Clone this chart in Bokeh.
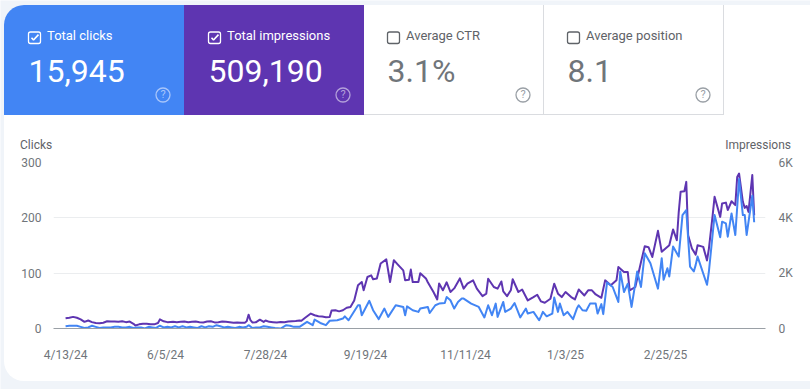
from bokeh.plotting import figure
from bokeh.models import LinearAxis, Range1d, FixedTicker, Column
from bokeh.core.properties import value
from bokeh.embed import file_html
from bokeh.resources import INLINE

tick_days = [0, 53, 106, 159, 212, 265, 318]
tick_labels = ["4/13/24", "6/5/24", "7/28/24", "9/19/24", "11/11/24", "1/3/25", "2/25/25"]

impr_days = [0,2,4,6,8,10,12,14,16,18,20,22,24,26,28,30,32,34,36,37,39,41,43,45,47,49,50,52,54,57,59,61,63,65,67,69,71,73,75,77,79,81,83,85,87,89,91,93,95,96,97,98,99,101,103,105,106,108,110,112,114,116,118,120,122,124,125,127,130,132,134,136,138,140,141,143,145,147,149,151,153,155,157,158,160,162,163,165,167,170,172,174,176,179,180,182,183,184,187,188,191,192,195,197,198,200,202,204,206,209,211,213,216,218,221,223,224,227,229,231,232,234,236,237,240,242,245,248,250,252,254,257,259,261,263,265,268,270,272,275,277,279,281,284,286,289,292,293,296,298,299,302,305,307,309,311,314,316,320,322,324,325,326,328,329,330,332,334,335,338,340,341,343,344,347,348,350,351,353,355,356,357,359,360,361,362,364,365]
impressions = [370,390,420,390,330,240,290,230,200,190,210,260,250,250,240,260,230,250,170,110,150,170,170,150,150,200,330,260,230,240,230,240,250,230,240,250,230,220,250,260,220,230,250,240,230,210,220,210,210,260,500,300,220,230,320,240,290,240,230,220,235,230,250,260,270,290,280,390,540,480,440,430,410,420,650,660,620,660,750,780,1010,1560,1680,1380,1860,1920,1780,1810,2350,2500,1680,2470,2320,2100,1740,1760,2130,1680,1680,2000,1810,1670,1320,1050,1630,1380,1670,1320,1450,1810,1440,1620,1740,1440,1170,1260,1800,1500,1440,1700,1340,1170,1380,1780,1320,1410,1015,1135,1220,980,930,1075,1620,1260,1135,1320,1135,1050,1410,1195,1380,1380,1230,1110,1740,1560,1740,2220,2040,2040,1380,1500,2400,2970,2940,2585,3530,2770,3010,3580,3190,4200,4940,4960,5300,3370,2890,2670,3010,2950,2460,2890,4095,4760,4035,4520,4550,4280,4600,4460,5480,5600,4580,4360,4430,4215,5545,4095]

click_days = [0,2,4,6,8,10,12,14,16,18,20,22,24,26,28,30,32,34,36,38,40,42,44,46,48,50,52,54,56,58,60,62,64,66,68,70,72,74,76,78,80,82,84,86,88,90,92,94,96,97,99,101,103,105,107,109,111,114,117,119,121,124,128,131,132,135,138,140,144,147,148,150,155,156,157,161,163,166,169,171,175,179,180,181,184,187,188,192,193,196,198,201,202,204,206,208,210,211,215,219,222,224,226,228,229,232,233,236,238,241,244,245,248,251,252,253,255,258,259,261,262,264,266,269,271,272,274,276,278,281,282,284,285,287,290,293,294,296,298,300,303,305,307,310,314,316,317,319,320,322,325,327,329,331,333,334,335,340,341,344,347,348,350,351,353,355,357,359,360,361,364,365]
clicks = [4,5,5,5,3,1,2,5,3,1,2,2,2,3,3,2,2,3,1,2,2,0,3,2,1,5,2,3,2,4,2,4,2,3,2,1,4,2,4,3,6,4,2,3,2,1,3,2,3,6,1,2,2,4,3,2,1,0,6,5,3,3,12,6,16,10,6,14,15,18,22,15,42,42,24,50,33,17,36,21,42,39,24,40,33,30,36,39,28,42,45,46,57,51,36,48,54,54,45,39,20,42,24,45,21,48,30,36,46,20,36,27,30,15,22,30,22,27,56,30,45,24,30,17,36,42,33,32,45,45,27,44,26,83,75,48,103,66,81,39,103,75,136,118,72,127,88,109,94,148,130,205,214,112,103,115,130,79,103,205,165,193,190,166,208,169,270,205,205,169,240,192]

card_heads = ["Total clicks", "Total impressions", "Average CTR", "Average position"]
card_values = ["15,945", "509,190", "3.1%", "8.1"]

BG = "#f0f4f9"; BLUE = "#4285f4"; PURPLE = "#5e35b1"; GREY = "#5f6368"; LINE = "#dadce0"

# back sheet: a figure whose data units are page pixels
bg = figure(width=810, height=389, output_backend="svg", toolbar_location=None,
            x_range=Range1d(0.5, 810.5), y_range=Range1d(389.5, 0.5),
            x_axis_location=None, y_axis_location=None,
            min_border=0, min_border_left=0, min_border_right=0, min_border_top=0, min_border_bottom=0,
            outline_line_color=None, background_fill_color=BG, border_fill_color=BG)
bg.grid.visible = False

def card(l, t, r, b, color, radius=0):
    bg.quad(left=[l], right=[r], top=[t], bottom=[b], fill_color=color, line_color=None, border_radius=radius)

def text(x, y, s, size, color, align="left"):
    bg.text(x=[x], y=[y - 0.4 * size], text=[s], text_font=value("Roboto"), text_font_size=f"{size}px",
            text_color=color, text_align=align, text_baseline="alphabetic")

card(4, 5, 830, 381, "white", 20)
card(4, 5, 184, 115, BLUE, (20, 0, 0, 0))
card(184, 5, 364, 115, PURPLE)
card(364, 114, 724, 115, LINE)
card(543, 5, 544, 115, LINE)
card(723, 5, 724, 115, LINE)

card_x = [28.5, 208.5, 387.5, 567.5]
head_col = ["white", "white", GREY, GREY]
val_col = ["white", "white", "#70757a", "#70757a"]
q_x = [163, 343, 523, 703]
q_col = ["#a8c5fa", "#b3a0da", "#9aa0a6", "#9aa0a6"]
for i in range(4):
    text(card_x[i] + 18.5, 41, card_heads[i], 13, head_col[i])
    text(card_x[i], 84, card_values[i], 32, val_col[i])
    bg.quad(left=[card_x[i]], right=[card_x[i] + 12], top=[32], bottom=[43.5], fill_alpha=0,
            line_color=head_col[i], line_width=1.3, border_radius=2)
    bg.quad(left=[q_x[i] - 7], right=[q_x[i] + 7], top=[88], bottom=[102], fill_alpha=0,
            line_color=q_col[i], line_width=1.3, border_radius=7)
    text(q_x[i], 99, "?", 11, q_col[i], align="center")
    if i < 2:
        x0 = card_x[i]
        bg.line(x=[x0 + 3, x0 + 5, x0 + 10], y=[37.7, 40, 34.6], line_color="white", line_width=1.6)

text(20, 150, "Clicks", 12, GREY)
text(791, 150, "Impressions", 12, GREY, align="right")

# chart: transparent, laid over the sheet
p = figure(width=810, height=389, output_backend="svg", toolbar_location=None,
           x_range=Range1d(-6.4, 371), y_range=Range1d(0, 300),
           min_border_left=53, min_border_right=45, min_border_top=162, min_border_bottom=61,
           outline_line_color=None, background_fill_color=None, border_fill_color=None)
p.extra_y_ranges = {"impr": Range1d(0, 6000)}

for ax in (p.xaxis[0], p.yaxis[0]):
    ax.major_tick_line_color = None
    ax.minor_tick_line_color = None
    ax.major_label_text_font = "Roboto"
    ax.major_label_text_font_size = "12px"
    ax.major_label_text_color = "#70757a"
p.xaxis.ticker = FixedTicker(ticks=tick_days)
p.xaxis.major_label_overrides = dict(zip(tick_days, tick_labels))
p.xaxis.axis_line_color = "#9aa0a6"
p.xaxis.major_label_standoff = 13
p.yaxis.ticker = FixedTicker(ticks=[0, 100, 200, 300])
p.yaxis.axis_line_color = None
p.yaxis.major_label_standoff = 6
right = LinearAxis(y_range_name="impr", ticker=FixedTicker(ticks=[0, 2000, 4000, 6000]),
                   major_label_overrides={0: "0", 2000: "2K", 4000: "4K", 6000: "6K"},
                   axis_line_color=None, major_tick_line_color=None, minor_tick_line_color=None,
                   major_label_text_font="Roboto", major_label_text_font_size="12px",
                   major_label_text_color="#70757a", major_label_standoff=7)
p.add_layout(right, "right")
p.xgrid.visible = False
p.ygrid.ticker = FixedTicker(ticks=[100, 200, 300])
p.ygrid.grid_line_color = "#ebedef"

p.line(impr_days, impressions, y_range_name="impr", color=PURPLE, line_width=2, line_join="round")
p.line(click_days, clicks, color=BLUE, line_width=2, line_join="round")

# the overlay sits in its own absolutely placed box, so the two frames stay independent
bg.styles = {"position": "absolute", "left": "0px", "top": "0px"}
p.styles = {"position": "absolute", "left": "0px", "top": "0px"}
page = Column(children=[Column(children=[bg], width=810, height=389), Column(children=[p], width=810, height=389, margin=(-389, 0, 0, 0))],
              width=810, height=389)
open("out.html", "w").write(file_html(page, INLINE))
